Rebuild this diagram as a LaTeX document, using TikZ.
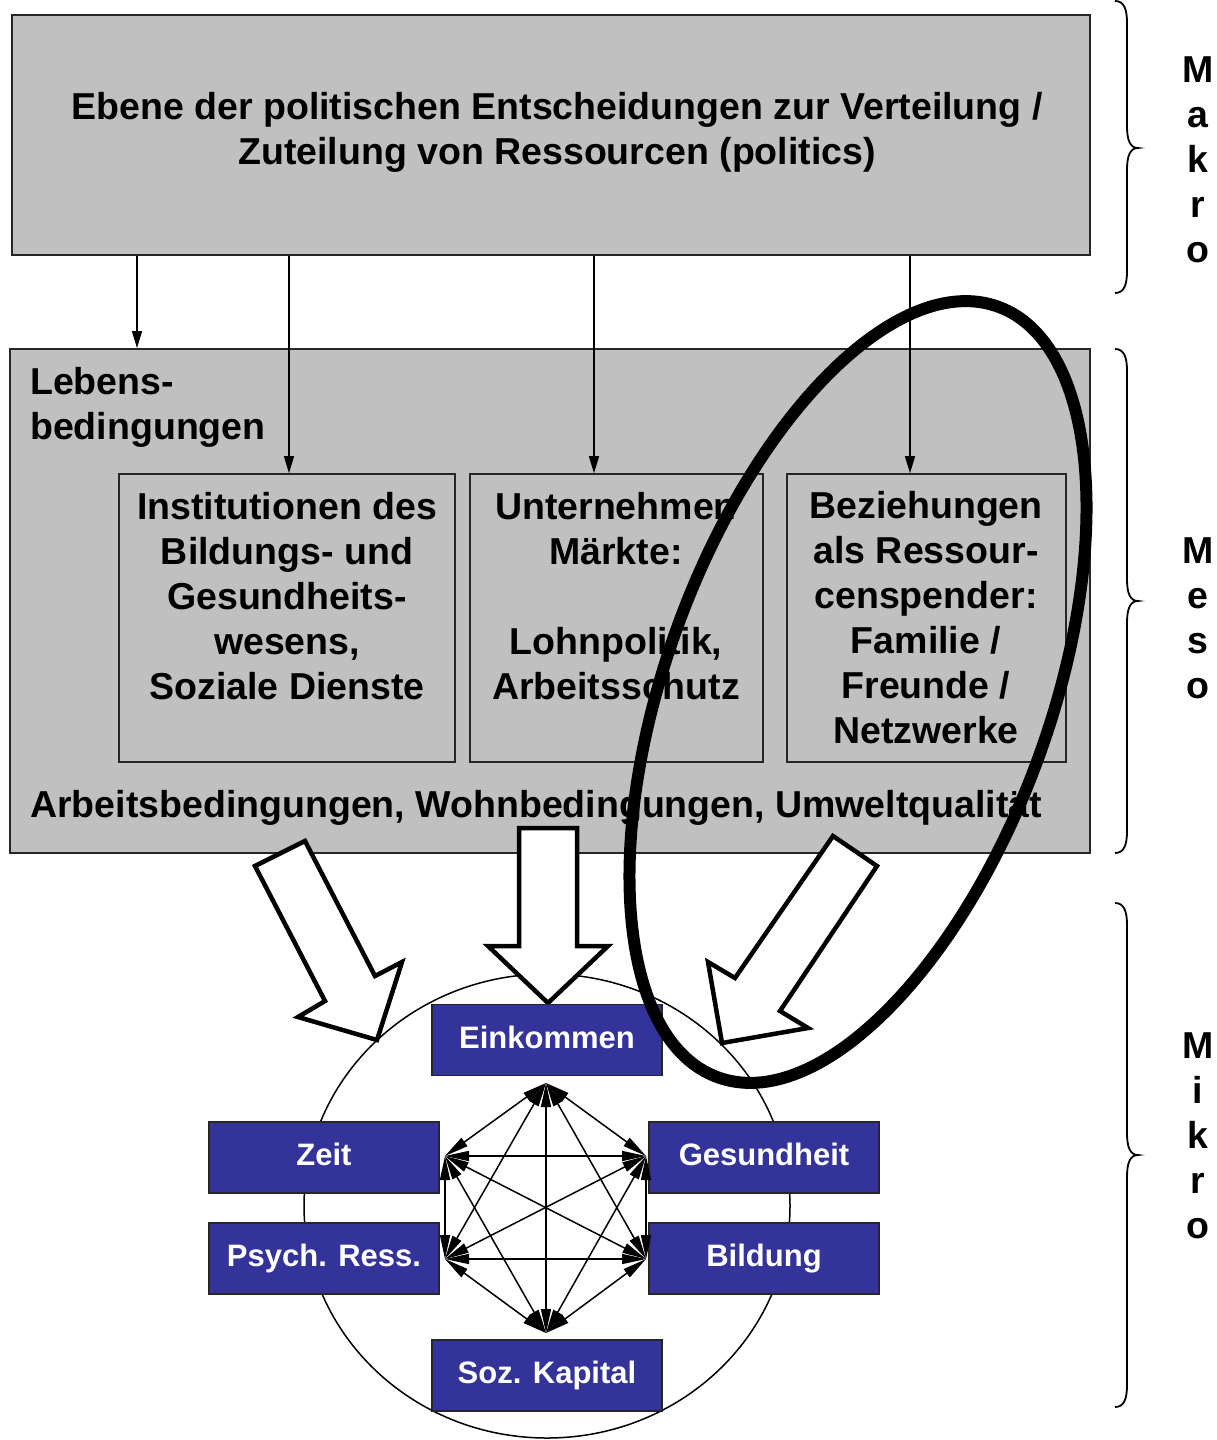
\documentclass[tikz,border=0pt]{standalone}
\usepackage{fontspec}
\setmainfont{Liberation Sans}
\usetikzlibrary{arrows.meta,calc}
\definecolor{boxgray}{HTML}{C0C0C0}
\definecolor{boxblue}{HTML}{333399}
\newcommand\mybrace[3]{%
  \draw[bracestyle] (1115,#1) .. controls (1124,#1) and (1127,{#1+8}) .. (1127,{#1+22})
    -- (1127,{#2-22}) .. controls (1127,{#2-8}) and (1130,#2) .. (1138,#2)
    .. controls (1130,#2) and (1127,{#2+8}) .. (1127,{#2+22})
    -- (1127,{#3-22}) .. controls (1127,{#3-8}) and (1124,#3) .. (1115,#3);}
\begin{document}
\begin{tikzpicture}[x=1pt,y=-1pt,
  graybox/.style={draw=black!85, line width=1.8pt, fill=boxgray, inner sep=0pt},
  innerbox/.style={draw=black!85, line width=1.6pt, fill=boxgray, inner sep=0pt},
  bluebox/.style={draw=black!85, line width=1.8pt, fill=boxblue, inner sep=0pt,
    minimum width=230pt, minimum height=71pt, text=white, text height=23pt, text depth=7pt,
    font=\fontsize{31}{37}\selectfont\bfseries},
  bigtext/.style={font=\fontsize{37.5}{45}\selectfont\bfseries, inner sep=0pt, align=center},
  thinarr/.style={line width=1.4pt, arrows={-Triangle[length=17pt,width=10pt]}},
  netarr/.style={line width=1.5pt, arrows={Triangle[length=24pt,width=10pt]-Triangle[length=24pt,width=10pt]}},
  hollow/.style={draw=black, line width=4.5pt, fill=white, line join=miter},
  bracestyle/.style={line width=1.8pt}]
\useasboundingbox (0,0) rectangle (1216,1440);

% boxes
\node[graybox, minimum width=1078pt, minimum height=240pt] (topbox) at (551,135) {};
\node[graybox, minimum width=1080pt, minimum height=504pt] (mesobox) at (550,601) {};
\node[innerbox, minimum width=336pt, minimum height=288pt] (ib1) at (287,618) {};
\node[innerbox, minimum width=293pt, minimum height=288pt] (ib2) at (616.5,618) {};
\node[innerbox, minimum width=279pt, minimum height=288pt] (ib3) at (926.5,618) {};

% texts
\node[bigtext] (ttop) at (557,132.5) {\strut Ebene der politischen Entscheidungen zur Verteilung /\\ \strut Zuteilung von Ressourcen (politics)};
\node[bigtext, align=left, anchor=west] (tleb) at (30,407.5) {\strut Lebens-\\ \strut bedingungen};
\node[bigtext] (t1) at (287,600) {\strut Institutionen des\\ \strut Bildungs- und\\ \strut Gesundheits-\\ \strut wesens,\\ \strut Soziale Dienste};
\node[bigtext] (t2) at (616,600) {\strut Unternehmen\\ \strut Märkte:\\ \strut\\ \strut Lohnpolitik,\\ \strut Arbeitsschutz};
\node[bigtext] (t3) at (926,622) {\strut Beziehungen\\ \strut als Ressour-\\ \strut censpender:\\ \strut Familie /\\ \strut Freunde /\\ \strut Netzwerke};
\node[bigtext, anchor=west] (tbot) at (30,808) {\strut Arbeitsbedingungen, Wohnbedingungen, Umweltqualität};

% thin arrows
\coordinate (a1) at (137,0);
\coordinate (a2) at (289,0);
\coordinate (a3) at (594,0);
\coordinate (a4) at (910,0);
\draw[thinarr] (topbox.south -| a1) -- (mesobox.north -| a1);
\draw[thinarr] (topbox.south -| a2) -- (ib1.north -| a2);
\draw[thinarr] (topbox.south -| a3) -- (ib2.north -| a3);
\draw[thinarr] (topbox.south -| a4) -- (ib3.north -| a4);

% circle
\draw[line width=1.5pt] (547,1206) ellipse [x radius=243, y radius=232];

% big hollow arrows
\draw[hollow] (255,866) -- (305,841) -- (375,976) -- (402,962) -- (377,1040) -- (298,1017) -- (325,1001) -- cycle;
\draw[hollow] (519,828) -- (577,828) -- (577,946) -- (608,946) -- (548,1003) -- (488,946) -- (519,946) -- cycle;
\draw[hollow] (833,836) -- (877,866) -- (780,1011) -- (808,1028) -- (722,1043) -- (708,962) -- (735,978) -- cycle;

% blue boxes
\node[bluebox] (ek) at (547,1040) {Einkommen};
\node[bluebox] (ze) at (324,1157.5) {Zeit};
\node[bluebox] (ge) at (764,1157.5) {Gesundheit};
\node[bluebox] (ps) at (324,1258.5) {Psych. Ress.};
\node[bluebox] (bi) at (764,1258.5) {Bildung};
\node[bluebox] (sk) at (547,1375.5) {Soz. Kapital};

% network points
\coordinate (pT) at (546,1083);
\coordinate (pZ) at (445,1156);
\coordinate (pG) at (646,1156);
\coordinate (pP) at (445,1259);
\coordinate (pB) at (646,1259);
\coordinate (pS) at (546,1333);
\foreach \u/\v in {pT/pZ,pT/pG,pT/pP,pT/pB,pT/pS,pZ/pG,pZ/pP,pZ/pB,pZ/pS,pG/pP,pG/pB,pG/pS,pP/pB,pP/pS,pB/pS}
  \draw[netarr] (\u) -- (\v);

% big ellipse
\draw[line width=12pt, rotate around={70:(858,692)}] (858,692) ellipse [x radius=410, y radius=192];

% braces
\mybrace{1}{148}{293}
\mybrace{349}{601}{853}
\mybrace{903}{1155}{1407}

% level labels
\node[bigtext] (lmak) at (1198,163.5) {\strut M\\ \strut a\\ \strut k\\ \strut r\\ \strut o};
\node[bigtext] (lmes) at (1198,622) {\strut M\\ \strut e\\ \strut s\\ \strut o};
\node[bigtext] (lmik) at (1198,1139.5) {\strut M\\ \strut i\\ \strut k\\ \strut r\\ \strut o};
\end{tikzpicture}
\end{document}
